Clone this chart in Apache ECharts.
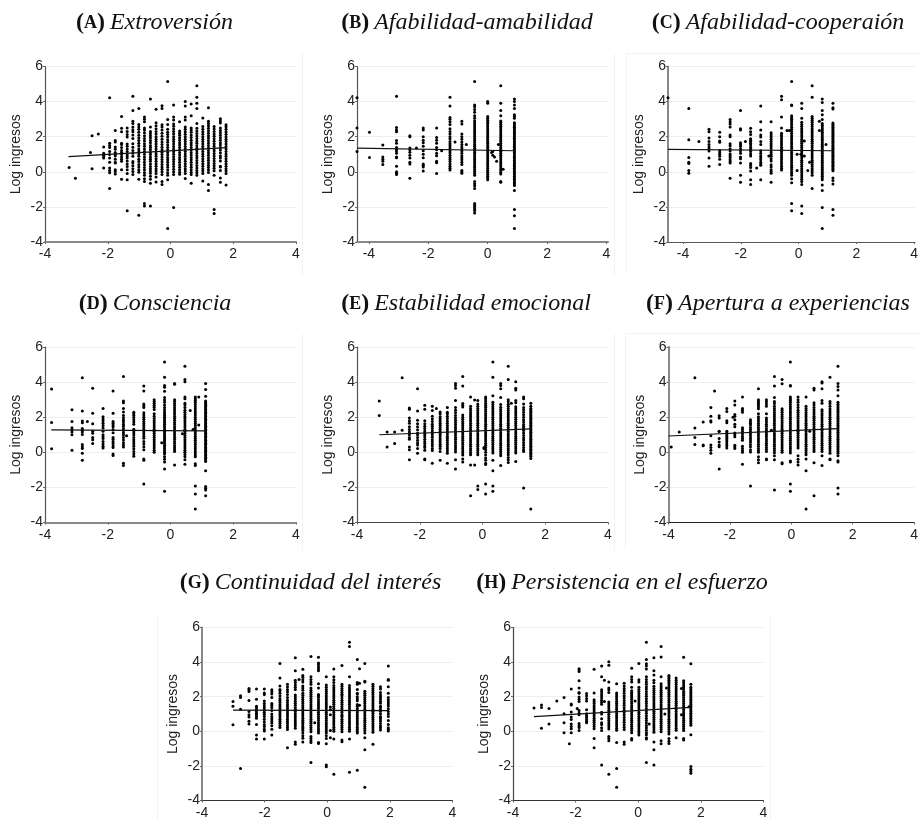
<!DOCTYPE html>
<html><head><meta charset="utf-8">
<style>html,body{margin:0;padding:0;background:#fff}#c{width:921px;height:820px}</style>
<script src="https://cdn.jsdelivr.net/npm/echarts@6/dist/echarts.min.js"></script>
</head><body><div id="c"></div>
<script>
const panelLetters=['A','B','C','D','E','F','G','H'];
const panelNames=['Extroversión','Afabilidad-amabilidad','Afabilidad-cooperaión','Consciencia','Estabilidad emocional','Apertura a experiencias','Continuidad del interés','Persistencia en el esfuerzo'];
const xTicks=[-4,-2,0,2,4];
const yName='Log ingresos';
// each column: x first, then the y values read at that x
const extroversion=[
[-3.23,.25],[-3.03,-.37],[-2.55,1.1],[-2.5,2.05,.18],[-2.3,2.15],
[-2.13,1.42,1.05,.95,.85,.78,.22],
[-1.94,4.22,1.62,1.5,1.38,1.15,.98,.78,.55,.22,.08,-.05,-.95],
[-1.76,2.35,1.78,1.7,1.42,1.28,1.1,1,.9,.72,.55,.5,.12,.02,-.12],
[-1.56,3.15,2.48,2.28,1.62,1.55,1.38,1.22,1.1,.98,.85,.72,.6,.12,-.42],
[-1.38,2.5,2.3,2.12,1.98,1.58,1.45,1.3,1.15,1.02,.9,.78,.62,.45,.3,.12,-.1,-.45,-2.22],
[-1.2,4.3,3.5,2.88,2.75,2.55,2.4,2.28,2.1,1.9,1.6,1.4,1.22,1.05,.88,.58,.5,.35,.18,.02,-.15],
[-1.01,3.6,2.7,2.55,2.42,2.25,2.08,1.92,1.78,1.62,1.48,1.32,1.18,1.02,.88,.72,.58,.42,.28,.12,-.02,-.42,-2.47],
[-.83,3.12,3,2.85,2.5,2.38,2.22,2.05,1.9,1.75,1.6,1.45,1.3,1.15,1,.85,.7,.55,.4,.25,.1,-.05,-.2,-.4,-.55,-1.8,-1.95],
[-.64,4.15,2.55,2.3,2.18,2.05,1.92,1.78,1.65,1.5,1.38,1.25,1.1,.98,.85,.72,.6,.45,.3,.18,.05,-.08,-.25,-.42,-.65,-1.95],
[-.46,3.57,2.8,2.62,2.45,2.3,2.15,2,1.85,1.72,1.58,1.44,1.3,1.16,1.02,.88,.75,.6,.46,.32,.18,.04,-.1,-.3,-.58],
[-.27,3.77,3.6,2.68,2.55,2.38,2.2,2.02,1.86,1.7,1.55,1.4,1.26,1.12,.98,.84,.7,.56,.42,.28,.14,0,-.15,-.55,-.72],
[-.09,5.15,2.98,2.7,2.42,2.25,2.12,1.98,1.82,1.68,1.52,1.38,1.24,1.1,.96,.82,.68,.54,.4,.26,.1,-.05,-.2,-.45,-3.23],
[.1,3.8,3.12,2.95,2.72,2.6,2.44,2.3,2.16,2,1.86,1.72,1.58,1.44,1.3,1.14,1,.86,.72,.58,.44,.3,.15,0,-.15,-2.03],
[.29,2.85,2.32,2.2,2.08,1.94,1.8,1.66,1.52,1.38,1.24,1.1,.96,.82,.68,.54,.4,.26,.12,-.02,-.14],
[.47,4,3.75,3.12,2.95,2.55,2.42,2.28,2.14,2,1.86,1.72,1.58,1.44,1.3,1.16,1.02,.88,.74,.6,.46,.32,.18,.04,-.1,-.38],
[.66,3.87,3.2,2.5,2.38,2.25,2.1,1.95,1.8,1.66,1.52,1.38,1.24,1.1,.96,.82,.68,.54,.4,.26,.12,-.02,-.15,-.65],
[.84,4.9,4.25,3.9,3.6,2.75,2.48,2.32,2.18,2.04,1.9,1.76,1.62,1.48,1.34,1.2,1.06,.92,.78,.64,.5,.36,.22,.08,-.06,-.2],
[1.03,3.07,2.58,2.42,2.28,2.14,2,1.86,1.72,1.58,1.44,1.3,1.16,1.02,.88,.74,.6,.46,.32,.18,.04,-.1,-.52],
[1.21,3.65,2.88,2.75,2.62,2.48,2.34,2.2,2.06,1.92,1.78,1.64,1.5,1.36,1.22,1.08,.94,.8,.66,.52,.38,.24,.1,-.04,-.72,-1.07],
[1.39,2.58,2.44,2.3,2.16,2.02,1.88,1.74,1.6,1.46,1.32,1.18,1.04,.9,.76,.62,.48,.34,.2,.06,-.2,-2.15,-2.37],
[1.59,3.02,2.9,2.78,2.5,2.36,2.22,2.08,1.94,1.8,1.66,1.52,1.38,1.24,1.08,.92,.78,.62,.32,.28,.08,-.35,-.6],
[1.77,2.68,2.56,2.42,2.28,2.14,2,1.86,1.72,1.58,1.44,1.3,1.16,1.02,.88,.74,.6,.46,.32,.18,.04,-.1,-.75]
];
const amabilidad=[
[-4.4,4.22,2.5,1.15],[-3.98,2.25,.82],[-3.53,1.52,.85,.72,.6,.42],
[-3.07,4.3,2.52,2.38,2.28,1.78,1.62,1.38,1.28,1.18,1.05,.85,.8,.32,0,-.08,-.15],
[-2.62,2.05,2,1.35,1.25,1.12,.95,.78,.55,.45,-.37],[-2.4,1.35],
[-2.17,2.5,2.38,2,1.8,1.65,1.45,1.2,1,.8,.45,.38,.28,.05],
[-1.72,2.5,1.95,1.8,1.62,1.38,1.25,1.05,.92,.6,.52,-.1],[-1.55,1.2],
[-1.27,4.25,3.75,3.1,3,2.85,2.7,2.45,2.3,2.15,2,1.88,1.72,1.6,1.48,1.35,1.2,1.08,.95,.82,.7,.58,.45,.32,.2,.1],
[-1.1,1.7],
[-.87,2.88,2.72,2.15,2,1.85,1.7,1.55,1.42,1.3,1.18,1.05,.92,.8,.68,.55,.42,.08,0,-.08],[-.72,1.55],
[-.44,5.15,3.8,3.7,3.55,3.4,3.2,3.05,2.9,2.78,2.66,2.55,2.44,2.33,2.22,2.11,2,1.89,1.78,1.67,1.56,1.45,1.34,1.23,1.12,1.01,.9,.79,.68,.57,.46,.35,.24,.13,.02,-.09,-.2,-.55,-.68,-.8,-.95,-1.8,-1.9,-2,-2.1,-2.2,-2.35],
[0,4,3.9,3.15,3.05,2.94,2.83,2.72,2.61,2.5,2.39,2.28,2.17,2.06,1.95,1.84,1.73,1.62,1.51,1.4,1.29,1.18,1.07,.96,.85,.74,.63,.52,.41,.3,.19,.08,-.03,-.14,-.25,-.36,-.46],
[.13,1.1],[.17,1.15,.95],[.23,.85],[.3,.6],[.36,1.55],[.52,.15],
[.44,4.9,3.9,3.5,3.2,2.9,2.82,2.71,2.6,2.49,2.38,2.27,2.16,2.05,1.94,1.83,1.72,1.61,1.5,1.39,1.28,1.17,1.06,.95,.84,.73,.62,.51,.4,.29,.18,.07,-.04,-.12,-.55,-.6],
[.9,4.15,4,3.8,3.6,3.25,3.15,3.05,2.8,2.72,2.63,2.54,2.45,2.36,2.27,2.18,2.09,2,1.91,1.82,1.73,1.64,1.55,1.46,1.37,1.28,1.19,1.1,1.01,.92,.83,.74,.65,.56,.47,.38,.29,.2,.11,.02,-.07,-.16,-.25,-.34,-.43,-.52,-.61,-.7,-.78,-1.07,-2.15,-2.5,-3.23]
];
const cooperacion=[
[-4.52,4.22],[-3.8,3.6,1.82,.82,.55,.48,.08,-.08],[-3.45,1.72],
[-3.1,2.42,2.28,1.92,1.72,1.55,1.42,1.3,1.18,.78,.32],
[-2.73,2.25,2,1.75,1.68,1.2,1.08,.98,.88,.72,.42],
[-2.37,2.98,2.85,2.72,2.55,2.1,2,1.6,1.48,1.32,1.18,1.02,.92,.82,.68,.58,.5,-.37],
[-2.01,3.5,2.45,2.38,1.65,1.55,1.45,1.32,1.2,1.05,.85,.75,.5,-.2,-.6],
[-1.84,1.72],
[-1.66,2.48,2.28,2.12,1.88,1.8,1.72,1.62,1.52,1.4,1.28,1.16,1.02,.9,.48,.38,.25,.05,-.45,-.72],
[-1.45,.22],
[-1.31,3.75,2.85,2.38,2.1,1.98,1.72,1.55,1.2,1.05,.92,.8,.68,.55,.45,.38,-.45],
[-.95,2.85,2.22,2.1,1.98,1.85,1.72,1.6,1.48,1.35,1.22,1.1,.98,.88,.75,.62,.4,.28,.12,.02,-.08,-.6],
[-1.03,.9],
[-.59,4.3,4.1,3.12,2.5,2.2,2.1,2,1.88,1.76,1.64,1.52,1.4,1.28,1.16,1.04,.92,.8,.68,.56,.44,.32,.2,.1],
[-.4,2.35],[-.32,2.35],
[-.24,5.15,3.8,3.78,3.2,3.1,3,2.9,2.78,2.66,2.54,2.42,2.3,2.18,2.06,1.94,1.82,1.7,1.58,1.46,1.34,1.22,1.1,.98,.86,.74,.62,.5,.38,.26,.14,.02,-.1,-.2,-.4,-.62,-1.8,-2.22],
[-.05,.08,1],[.2,1.75,.9],[.08,1],[.32,.08],[.38,.55],
[.11,3.9,3.6,3.05,2.82,2.7,2.58,2.46,2.34,2.22,2.1,1.98,1.86,1.74,1.62,1.5,1.38,1.26,1.14,1.02,.9,.78,.66,.54,.42,.3,.18,.06,-.06,-.18,-.3,-.42,-.55,-.72,-1.95,-2.37],
[.47,4.9,4.25,3.15,3.05,2.94,2.82,2.7,2.58,2.46,2.34,2.22,2.1,1.98,1.86,1.74,1.62,1.5,1.38,1.26,1.14,1.02,.9,.78,.66,.54,.42,.3,.18,.06,-.06,-.2,-.95],
[.72,2.88,2.35],
[.82,4.15,3.95,3.5,3.25,2.98,2.75,2.65,2.55,2.45,2.35,2.25,2.15,2.05,1.95,1.85,1.75,1.65,1.55,1.45,1.35,1.25,1.15,1.05,.95,.85,.75,.65,.55,.45,.35,.25,.15,.05,-.05,-.15,-.25,-.35,-.45,-.75,-1.07,-2.03,-3.23],
[.95,1.55],
[1.19,3.9,3.65,3.58,2.78,2.7,2.62,2.54,2.46,2.38,2.3,2.22,2.14,2.06,1.98,1.9,1.82,1.74,1.66,1.58,1.5,1.42,1.34,1.26,1.18,1.1,1.02,.94,.86,.78,.7,.62,.54,.46,.38,.3,.22,.14,.06,-.35,-.5,-.7,-2.15,-2.47]
];
const consciencia=[
[-3.79,3.6,1.7,.2],[-3.14,2.42,1.75,1.4,1.28,1.15,1,.12],
[-2.81,4.25,2.35,1.78,1.68,1.35,1.25,1.15,1.02,.45,.32,.22,-.05,-.45],
[-2.65,1.75],[-2.48,3.65,2.22,1.62,1.2,1.08,.85,.72,.5],
[-2.15,2.5,2.02,1.9,1.78,1.65,1.52,1.38,1.2,1,.88,.78,.62,.48,.35,.25],
[-1.83,3.5,2.22,1.75,1.65,1.55,1.45,1.3,1.12,.85,.75,.62,.5,.38,.28,-.1,-.18],
[-1.5,4.32,2.92,2.82,2.5,2.3,2.1,1.95,1.82,1.72,1.6,1.48,1.36,1.24,1.12,.98,.85,.7,.55,.42,.3,-.62,-.75],
[-1.4,.95],
[-1.17,2.28,2.2,2.1,1.98,1.85,1.72,1.6,1.32,1.22,1.1,.98,.85,.72,.6,.48,.35,.2,.05,-.1,-.22],
[-.85,3.78,3.5,2.75,2.65,2.55,2.25,2.12,2,1.88,1.76,1.64,1.52,1.4,1.28,1.16,1.04,.92,.8,.62,.48,.32,.15,-.38,-.45,-1.8],
[-.52,3,2.9,2.8,2.68,2.56,2.44,2.2,2.05,1.92,1.8,1.68,1.56,1.44,1.32,1.2,1.08,.96,.84,.72,.6,.48,.36,.24,.12,0],
[-.28,.55],
[-.19,5.15,4.28,3.8,3.7,3.48,3.12,2.98,2.85,2.7,2.55,2.42,2.3,2.2,2.1,2,1.9,1.8,1.7,1.6,1.5,1.4,1.3,1.2,1.1,1,.9,.8,.7,.6,.5,.4,.3,.2,.1,0,-.1,-.25,-.4,-.55,-.95,-2.22],
[.13,3.92,3.88,3,2.9,2.78,2.66,2.54,2.42,2.3,2.18,2.06,1.94,1.82,1.7,1.58,1.46,1.34,1.22,1.1,.98,.86,.74,.62,.5,.38,.26,.14,.04,-.72],
[.38,1.05],
[.46,4.9,4.15,4.02,3.15,3.05,2.8,2.7,2.55,2.4,2.28,2.16,2.04,1.92,1.8,1.68,1.56,1.44,1.32,1.2,1.08,.96,.84,.72,.6,.48,.36,.24,.12,0,-.12,-.25,-.42,-.68],
[.63,2.38],
[.72,1.3],
[.79,3.15,3.05,2.95,2.85,2.72,2.6,2.48,2.36,2.24,2.12,2,1.88,1.76,1.64,1.52,1.4,1.28,1.16,1.04,.92,.8,.68,.56,.44,.32,.2,.08,-.04,-.16,-.25,-.65,-.75,-1.92,-2.37,-3.23],
[.9,3.15,1.55],
[1.12,3.92,3.58,3.2,2.92,2.84,2.76,2.68,2.6,2.52,2.44,2.36,2.28,2.2,2.12,2.04,1.96,1.88,1.8,1.72,1.64,1.56,1.48,1.4,1.32,1.24,1.16,1.08,1,.92,.84,.76,.68,.6,.52,.44,.36,.28,.2,.12,.04,-.04,-.12,-.2,-.28,-.36,-.44,-.52,-1.05,-1.95,-2.05,-2.15,-2.48]
];
const estabilidad=[
[-3.29,2.92,2.1],[-3.04,1.15,.3],[-2.8,1.15,.5],[-2.56,4.25,1.25],
[-2.33,2.52,2.45,1.95,1.8,1.65,1.45,1.3,1.15,1,.85,.75,.3,.15,-.42],
[-2.07,3.62,2.35,1.82,1.62,1.45,1.28,1.1,1,.85,.68,.55,.42,.22,-.05],
[-1.84,2.68,2.45,1.8,1.62,1.48,1.35,1.22,1.1,1,.88,.75,.62,.5,.38,.28,.12,-.38,-.42],
[-1.6,2.62,2.38,2.05,1.9,1.75,1.6,1.48,1.35,1.22,1.1,.98,.86,.72,.6,.48,.36,.22,.1,-.62],
[-1.47,2.5],
[-1.35,2.3,2.18,2.02,1.9,1.78,1.66,1.54,1.42,1.3,1.18,1.06,.94,.82,.7,.58,.46,.34,.22,.05,-.45],
[-1.12,2.55,2.28,2.2,2.05,1.92,1.78,1.65,1.52,1.4,1.28,1.16,1.04,.92,.8,.68,.56,.44,.32,.2,.08,-.05,-.62],
[-.86,3.92,3.8,3.65,2.95,2.55,2.4,2.25,2.1,1.95,1.82,1.7,1.58,1.46,1.34,1.22,1.1,.98,.86,.74,.62,.5,.38,.26,.14,.02,-.42,-.95],
[-.63,4.32,3.78,2.78,2.68,2.58,2.12,2,1.88,1.76,1.64,1.52,1.4,1.28,1.16,1.04,.92,.8,.68,.56,.44,.32,.2,.08,-.04,-.16,-.38,-.55],
[-.38,3.15,2.62,2.5,2.38,2.26,2.14,2.02,1.9,1.78,1.66,1.54,1.42,1.3,1.18,1.06,.94,.82,.7,.58,.46,.34,.22,.1,-.02,-.14,-.72,-2.48],
[-.25,2.98,-.72],
[-.15,2.95,2.75,2.62,2.5,2.38,2.26,2.14,2.02,1.9,1.78,1.66,1.54,1.42,1.3,1.18,1.06,.94,.82,.7,.58,.46,.34,.22,.1,-.02,-.14,-1.92,-2.12],
[.05,.28,.22],
[.1,3.15,3.05,2.92,2.8,2.68,2.56,2.44,2.32,2.2,2.08,1.96,1.84,1.72,1.6,1.48,1.36,1.24,1.12,1,.88,.76,.64,.52,.4,.28,.15,0,-.15,-.32,-.45,-.62,-.7,-1.8,-2.37],
[.33,5.15,4.28,3.22,2.85,2.72,2.6,2.48,2.36,2.24,2.12,2,1.88,1.76,1.64,1.52,1.4,1.28,1.16,1.04,.92,.8,.68,.56,.44,.32,.2,.08,-.04,-.45,-1.05,-1.92,-2.22],
[.58,3.92,3.8,3.62,3.12,2.72,2.56,2.44,2.32,2.2,2.08,1.96,1.84,1.72,1.6,1.48,1.36,1.24,1.12,1,.88,.76,.64,.52,.4,.28,.16,.04,-.08,-.2,-.75],
[.82,4.9,4.15,3,2.88,2.74,2.62,2.5,2.38,2.26,2.14,2.02,1.9,1.78,1.66,1.54,1.42,1.3,1.18,1.06,.94,.82,.7,.58,.46,.34,.22,.1,-.02,-.14,-.3,-.42,-.58],
[.92,2.8],
[1.06,4.02,3.65,3.55,2.95,2.82,2.6,2.48,2.36,2.24,2.12,2,1.88,1.76,1.64,1.52,1.4,1.28,1.16,1.04,.92,.8,.68,.56,.44,.32,.2,.08,-.04,-.52],
[1.31,3.15,3.05,2.75,2.55,2.42,2.28,2.14,2,1.86,1.72,1.58,1.48,1.4,1.32,1.24,1.1,.96,.82,.7,.56,.42,.28,.14,.04,-2.03],
[1.54,2.8,2.62,2.5,2.42,2.34,2.26,2.18,2.1,2.02,1.94,1.86,1.78,1.7,1.62,1.54,1.46,1.38,1.3,1.22,1.14,1.06,.98,.9,.82,.74,.66,.58,.5,.42,.34,.26,.18,.1,.02,-.06,-.14,-.22,-.35,-3.23]
];
const apertura=[
[-3.91,.3],[-3.65,1.15],[-3.14,4.25,1.38,.85,.45],[-2.87,1.72,.42,.38],
[-2.62,2.55,2.05,1.8,1.72,.95,.42,.28,.12,-.05],[-2.5,3.5],
[-2.35,2.08,1.95,1.2,1.18,.78,.58,.42,.32,-.95],
[-2.1,2.5,2.32,1.8,1.68,1.2,1.1,1,.9,.8,.7,.6,.48,.38,.25],
[-1.84,2.92,2.7,2.15,2.05,1.85,1.6,1.45,1.1,1,.88,.4,.3,.22],[-1.9,2],
[-1.59,3.15,2.5,2.4,2.28,1.4,1.3,1.18,1.05,.92,.8,.68,.35,.22,.1,0,-.68],
[-1.33,1.85,1.75,1.65,1.55,1.42,1.3,1.18,1.06,.94,.82,.7,.58,.45,.32,.15,.02,-1.92],
[-1.07,3.62,3,2.9,2.8,2.7,2.6,2.48,2.2,2.02,1.9,1.78,1.66,1.54,1.42,1.3,1.18,1.06,.94,.82,.7,.58,.46,.34,.22,.1,0,-.25,-.42,-.6],
[-.81,3,2.88,2.75,2.62,2.2,1.95,1.85,1.72,1.6,1.48,1.36,1.24,1.12,1,.88,.76,.64,.52,.4,.28,.16,.05,-.38,-.42],
[-.65,1.25],
[-.55,4.32,3.78,3.12,2.9,2.78,2.62,2.5,2.38,2.26,2.14,2.02,1.9,1.78,1.66,1.54,1.42,1.3,1.18,1.06,.94,.82,.7,.58,.46,.34,.22,.1,-.02,-.2,-.42,-2.15],
[-.3,4.15,3.9,2.48,2.38,2.28,2.16,2.04,1.92,1.8,1.68,1.56,1.44,1.32,1.2,1.08,.96,.84,.72,.6,.48,.36,.24,.12,0,-.6,-.65],
[-.03,5.15,3.8,3.78,3.15,3.05,2.95,2.85,2.72,2.6,2.48,2.36,2.24,2.12,2,1.88,1.76,1.64,1.52,1.4,1.28,1.16,1.04,.92,.8,.68,.56,.44,.32,.2,.08,-.04,-.5,-.55,-1.8,-2.22],
[.22,3.15,3,2.85,2.7,2.55,2.4,2.28,2.16,2.04,1.92,1.8,1.68,1.56,1.44,1.32,1.2,1.08,.96,.84,.72,.6,.48,.36,.25,-.2,-.4,-.55,-.72],
[.48,3.15,2.62,2.5,2.38,2.26,2.14,2.02,1.9,1.78,1.66,1.54,1.42,1.3,1.18,1.06,.94,.82,.7,.58,.46,.34,.22,.1,-.02,-.14,-.38,-1.05,-3.23],
[.6,1.2],
[.74,3.65,3.55,2.82,2.7,2.55,2.42,2.3,2.18,2.06,1.94,1.82,1.7,1.58,1.46,1.34,1.22,1.1,.98,.86,.74,.62,.5,.38,.26,.14,.04,-.6,-2.48],
[1,4.02,3.95,3.62,2.95,2.8,2.42,2.32,2.2,2.08,1.96,1.84,1.72,1.6,1.48,1.36,1.24,1.12,1,.88,.76,.64,.52,.4,.28,.16,.04,-.2,-.75],
[1.26,4.28,2.9,2.78,2.62,2.48,2.36,2.24,2.12,2,1.88,1.76,1.64,1.52,1.4,1.28,1.16,1.04,.92,.8,.68,.56,.44,.32,.2,.08,-.05,-.38,-.42],
[1.52,4.9,3.92,3.75,3.55,3.22,2.85,2.74,2.64,2.54,2.44,2.34,2.24,2.14,2.04,1.94,1.84,1.74,1.64,1.54,1.44,1.34,1.24,1.14,1.04,.94,.84,.74,.64,.54,.44,.34,.24,.14,.04,-.06,-.2,-.48,-.55,-2.03,-2.37]
];
const continuidad=[
[-3.01,1.72,1.45,.38],[-2.77,2.05,1.95,1.28,-2.15],
[-2.5,2.48,2.4,2.3,1.78,1.15,.95,.82,.58,.42],
[-2.26,2.45,1.85,1.45,1.35,1.25,1.15,1.05,.95,.85,.75,.4,-.22,-.45],
[-2.01,2.45,2.22,2.12,1.75,1.6,1.48,1.35,1.22,1.1,.98,.85,.7,.55,.4,.28,.12,.02,-.45],
[-1.77,2.4,2.28,2.15,1.95,1.6,1.5,1.38,1.2,1,.85,.72,.6,.48,.32,.12,-.22],
[-1.51,3.92,3.08,2.62,2.42,2.35,2.2,2.05,1.9,1.78,1.66,1.54,1.42,1.3,1.18,1.06,.94,.82,.7,.58,.46,.34,.22],
[-1.27,2.72,2.58,2.42,2.28,2.12,1.95,1.8,1.66,1.54,1.42,1.3,1.18,1.06,.94,.82,.7,.58,.46,.34,.22,.1,-.95],
[-1.02,4.25,3.5,2.95,2.82,2.68,2.55,2.42,2.1,1.98,1.86,1.74,1.62,1.5,1.38,1.26,1.14,1.02,.9,.78,.66,.54,.42,.3,.18,-.62,-.75],
[-.9,3],
[-.78,3.58,3.22,3.12,2.98,2.85,2.62,2.5,2.38,2.2,2.08,1.96,1.84,1.72,1.6,1.48,1.36,1.24,1.12,1,.88,.76,.64,.52,.42,.3,.22,.15,.05,-.1,-.25,-.4,-.62],
[-.52,4.32,3.15,3,2.85,2.72,2.5,2.38,2.26,2.14,2.02,1.9,1.78,1.66,1.54,1.42,1.3,1.18,1.06,.94,.82,.7,.58,.46,.34,.22,.1,-.02,-.3,-.42,-.55,-.65,-1.8],
[-.4,.5],
[-.28,4.28,3.95,3.85,3.72,3.6,3.5,2.75,2.5,2.12,2.05,1.95,1.82,1.7,1.58,1.46,1.34,1.22,1.1,.98,.86,.74,.62,.5,.38,.26,.14,.02,-.1,-.65,-.7],
[-.03,3.15,2.68,2.55,2.42,2.3,2.18,2.06,1.94,1.82,1.7,1.58,1.46,1.34,1.22,1.1,.98,.86,.74,.62,.5,.38,.26,.14,.02,-.1,-.25,-.42,-.72,-1.95,-2.05],
[.1,1.4,1.25,.95,.05,-.38],
[.21,3.6,3.15,2.98,2.82,2.65,2.52,2.4,2.28,2.16,2.04,1.92,1.8,1.68,1.56,1.44,1.32,1.2,1.08,.96,.84,.72,.6,.48,.36,.24,.12,0,-.45,-2.48],
[.47,3.8,2.72,2.6,2.48,2.36,2.24,2.14,2.05,1.92,1.8,1.68,1.56,1.44,1.32,1.2,1.08,.96,.9,.82,.7,.58,.46,.34,.22,.1,-.02,-.5,-.6],
[.71,5.15,4.9,3.15,2.65,2.52,2.4,2.28,2.16,2.04,1.92,1.8,1.68,1.56,1.44,1.32,1.2,1.08,.96,.84,.72,.6,.48,.36,.24,.12,0,-.45,-2.37],
[.96,4.15,2.82,2.72,2.42,2.2,2.15,2,1.88,1.76,1.55,1.45,1.32,1.2,1.08,.96,.84,.72,.6,.48,.36,.24,.12,0,-.1,-2.25],
[1.03,3.62,2.78,1.5],
[1.2,3.92,2.9,2.85,2.32,2.2,2.08,1.96,1.84,1.72,1.6,1.48,1.36,1.24,1.12,1,.88,.76,.64,.52,.4,.28,.16,.04,-.1,-.38,-1.07,-3.23],
[1.46,2.72,2.6,2.48,2.36,2.24,2.12,2,1.88,1.76,1.64,1.52,1.4,1.28,1.16,1.04,.92,.8,.68,.56,.44,.32,.2,.08,-.05,-.75],
[1.7,2.58,2.45,2.25,2.1,1.98,1.86,1.74,1.62,1.45,1.4,1.28,1.16,1.02,.85,.78,.72,.6,.45,.3,.2,.08],
[1.95,3.78,3,2.95,2.58,2.2,1.95,1.82,1.7,1.58,1.46,1.3,1.15,1,.85,.62,.4,.2,.12,.02]
];
const persistencia=[
[-3.33,1.35],[-3.09,1.52,1.38,.18],[-2.85,1.32,.42],[-2.6,1.75],
[-2.37,1.95,1.02,.5,-.08],[-2.2,-.72],
[-2.14,2.45,1.58,1.52,1.12,.82,.68,.42,.28,.15,-.08],
[-1.95,1.32],
[-1.89,3.62,3.55,3.45,2.92,2.5,2.25,2.2,1.98,1.85,1.72,1.2,1.05,.95,.45,.32,.22,.05],
[-1.65,2.18,2.05,1.9,1.75,1.25,1.02,.9,.8,.68,.58,.5],
[-1.41,3.58,2.22,1.82,1.72,1.6,1.48,1.36,1.24,1.12,1,.88,.76,.64,.52,.4,.28,.15,-.42,-.95],
[-1.17,3.78,3.15,2.4,2.28,2.16,2.04,1.92,1.8,1.68,1.56,1.1,1,.72,.5,.4,.2,.05,-1.95],
[-1.08,2.95,1.72],
[-.94,4.02,3.82,2.85,2.5,2.4,2.25,1.7,1.58,1.46,1.34,1.22,1.1,.98,.86,.74,.62,.5,.38,.26,.14,-.3,-.42,-.55,-2.48],
[-.69,2.75,2.22,2.1,1.98,1.86,1.74,1.62,1.5,1.38,1.26,1.14,1.02,.9,.78,.66,.54,.42,.3,.18,.06,-.65,-2.15,-3.23],
[-.45,2.78,2.62,2.48,2.34,2.2,2.06,1.92,1.78,1.64,1.5,1.36,1.22,1.08,.94,.8,.66,.52,.38,.24,.1,-.62,-.75],
[-.21,3.65,3.15,3,2.85,2.55,2.35,2.25,2.15,2.05,1.95,1.85,1.72,1.6,1.48,1.36,1.24,1.12,1,.88,.76,.64,.52,.4,.28,.16,.04,-.08,-.42,-.5],
[-.1,1.75],
[.02,3.92,2.98,2.85,2.55,2.42,2.3,2.18,2.06,1.94,1.82,1.7,1.58,1.46,1.34,1.22,1.1,.98,.86,.74,.62,.5,.38,.26,.14,.02,-.1,-.22],
[.26,5.15,4.15,3.9,3.78,3.6,3.15,3,2.85,2.72,2.58,2.44,2.3,2.16,2.02,1.88,1.74,1.6,1.46,1.32,1.18,1.04,.9,.76,.62,.48,.34,.2,.06,-.08,-.2,-.38,-.45,-1.8],
[.35,.42],
[.5,4.25,3.5,3.25,2.95,2.8,2.6,2.48,2.36,2.24,2.12,2,1.88,1.76,1.64,1.52,1.4,1.28,1.16,1.04,.92,.8,.68,.56,.44,.32,.2,.08,-.05,-.62,-1.07,-1.95],
[.73,4.9,4.3,3.15,2.75,2.62,2.5,2.38,2.26,2.14,2.02,1.9,1.78,1.66,1.54,1.42,1.3,1.18,1.06,.94,.82,.7,.58,.46,.34,.22,.1,-.02,-.55,-.72],
[.85,1],[.9,2.5],
[.98,3.22,3.15,3.05,2.95,2.85,2.75,2.62,2.5,2.38,2.26,2.14,2.02,1.9,1.78,1.66,1.54,1.42,1.3,1.18,1.06,.94,.82,.7,.58,.46,.34,.22,.1,-.02,-.15,-.42,-.58,-.7],
[1.21,3.08,2.95,2.82,2.7,2.58,2.46,2.34,2.22,2.1,1.98,1.86,1.74,1.62,1.5,1.38,1.26,1.14,1.02,.9,.78,.66,.54,.42,.3,.18,.06,-.38],
[1.38,2.48,.95],
[1.45,4.28,2.92,2.8,2.68,2.56,2.44,2.32,2.2,2.08,1.96,1.84,1.72,1.6,1.48,1.36,1.24,1.12,1,.88,.76,.64,.52,.4,.28,.16,.04,-.42,-.5],
[1.62,1.42],
[1.68,3.9,2.72,2.55,2.45,2.35,2.25,2.15,2.05,1.95,1.85,1.75,1.65,1.55,1.45,1.35,1.25,1.15,1.05,.95,.85,.75,.65,.55,.45,.35,-.2,-2.03,-2.2,-2.3,-2.42]
];
const allPanels=[extroversion,amabilidad,cooperacion,consciencia,estabilidad,apertura,continuidad,persistencia];
// regression line end points [x0,y0,x1,y1]
const fitLines=[
[-3.25,.87,1.78,1.38],[-4.4,1.35,.9,1.2],[-4.52,1.28,1.19,1.2],[-3.8,1.28,1.12,1.22],
[-3.29,1,1.54,1.33],[-4,.93,1.52,1.35],[-3.01,1.22,1.95,1.2],[-3.33,.85,1.68,1.38]];
const xMins=[-4,-4.4,-4.52,-4,-4,-4,-4,-4];
const xMaxs=[4,4.05,4.03,4,4,4,4,4];
const layout=[
{l:45,r:296,t:66.5,b:242,tx:154.5,ty:23,yc:'#555',yw:1.2,xc:'#888',xw:2},
{l:357,r:608,t:66.5,b:242,tx:467,ty:23,yc:'#555',yw:1.2,xc:'#888',xw:2},
{l:668,r:921,t:66.5,b:242,tx:778,ty:23,yc:'#888',yw:2,xc:'#555',xw:1.2},
{l:45,r:296,t:347,b:522.5,tx:155,ty:304,yc:'#555',yw:1.2,xc:'#888',xw:2},
{l:357,r:608,t:347,b:522.5,tx:466,ty:304,yc:'#555',yw:1.2,xc:'#444',xw:1.2},
{l:668.5,r:919,t:347,b:522.5,tx:778,ty:304,yc:'#888',yw:2,xc:'#222',xw:1.2},
{l:202,r:452.5,t:627.5,b:802.5,tx:310.5,ty:583,yc:'#888',yw:2,xc:'#333',xw:1.2},
{l:513,r:763.5,t:627.5,b:802.5,tx:622,ty:583,yc:'#444',yw:1.2,xc:'#333',xw:1.2}];
// pale frame traces left around some panels in the source image
const frameLines=[[302,52,302,275],[614,53,614,275],[626,53,626,270],[626,53,921,53],[302,333,302,550],[614,333,614,550],[625,333,625,549],[625,333,921,333],[157,613,157,820],[770,613,770,820]];
const titles=[],grids=[],xAxes=[],yAxes=[],series=[];
const sans='"Liberation Sans",Arial,sans-serif', serif='"Liberation Serif",serif';
layout.forEach((p,i)=>{
 titles.push({left:p.tx,top:p.ty,padding:0,textAlign:'center',textVerticalAlign:'middle',
  text:'{p|(}{c|'+panelLetters[i]+'}{p|)} {i|'+panelNames[i]+'}',
  textStyle:{fontWeight:'normal',rich:{p:{fontFamily:serif,fontWeight:'bold',fontSize:24,color:'#111'},c:{fontFamily:serif,fontWeight:'bold',fontSize:18,color:'#111'},i:{fontFamily:serif,fontStyle:'italic',fontWeight:'normal',fontSize:24,color:'#111'}}}});
 grids.push({left:p.l,top:p.t,width:p.r-p.l,height:p.b-p.t,containLabel:false});
 xAxes.push({type:'value',gridIndex:i,min:xMins[i],max:xMaxs[i],splitLine:{show:false},
  axisLine:{onZero:false,lineStyle:{color:p.xc,width:p.xw}},
  axisTick:{show:true,customValues:xTicks,length:2,lineStyle:{color:'#666'}},
  axisLabel:{customValues:xTicks,margin:5.5,color:'#222',fontFamily:sans,fontSize:14,hideOverlap:false,showMinLabel:true,showMaxLabel:true}});
 yAxes.push({type:'value',gridIndex:i,min:-4,max:6,interval:2,name:yName,nameLocation:'middle',nameRotate:90,nameGap:21.5,
  nameTextStyle:{color:'#222',fontFamily:sans,fontSize:14},
  splitLine:{show:true,lineStyle:{color:'#e9f1ef',width:1}},
  axisLine:{show:true,onZero:false,lineStyle:{color:p.yc,width:p.yw}},
  axisTick:{show:true,length:2,lineStyle:{color:'#666'}},
  axisLabel:{margin:2,color:'#222',fontFamily:sans,fontSize:14}});
 const pts=[];
 allPanels[i].forEach(col=>{col.slice(1).forEach(y=>pts.push([col[0],y]))});
 series.push({type:'scatter',xAxisIndex:i,yAxisIndex:i,data:pts,symbol:'circle',symbolSize:3,itemStyle:{color:'#000',opacity:1},silent:true,animation:false});
 const f=fitLines[i];
 series.push({type:'line',xAxisIndex:i,yAxisIndex:i,data:[[f[0],f[1]],[f[2],f[3]]],showSymbol:false,lineStyle:{color:'#111',width:1.2},silent:true,animation:false,z:3});
});
const chart=echarts.init(document.getElementById('c'),null,{renderer:'canvas'});
chart.setOption({animation:false,backgroundColor:'#fff',title:titles,grid:grids,xAxis:xAxes,yAxis:yAxes,series:series,
 graphic:frameLines.map(s=>({type:'line',silent:true,z:-1,shape:{x1:s[0]+.5,y1:s[1]+.5,x2:s[2]+.5,y2:s[3]+.5},style:{stroke:'#f0f5f4',lineWidth:1}}))});
</script></body></html>
